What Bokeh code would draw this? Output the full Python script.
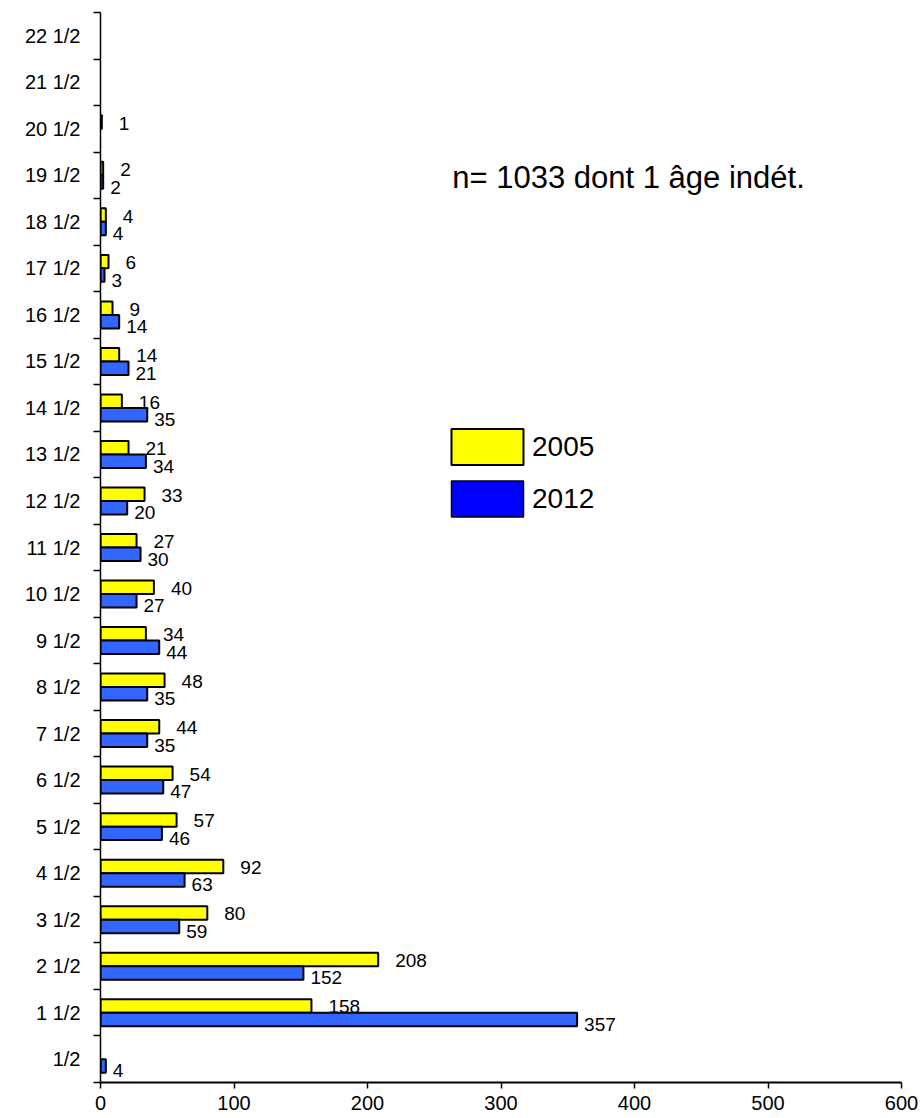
from bokeh.plotting import figure
from bokeh.models import (ColumnDataSource, FixedTicker, Legend, LegendItem, Label, Range1d)
from bokeh.embed import file_html
from bokeh.resources import INLINE
from bokeh.core.properties import value

ages = ["1/2", "1 1/2", "2 1/2", "3 1/2", "4 1/2", "5 1/2", "6 1/2", "7 1/2",
        "8 1/2", "9 1/2", "10 1/2", "11 1/2", "12 1/2", "13 1/2", "14 1/2",
        "15 1/2", "16 1/2", "17 1/2", "18 1/2", "19 1/2", "20 1/2", "21 1/2", "22 1/2"]
counts_2005 = [0, 158, 208, 80, 92, 57, 54, 44, 48, 34, 40, 27, 33, 21, 16, 14, 9, 6, 4, 2, 1, 0, 0]
counts_2012 = [4, 357, 152, 59, 63, 46, 47, 35, 35, 44, 27, 30, 20, 34, 35, 21, 14, 3, 4, 2, 0, 0, 0]
series_names = ["2005", "2012"]
x_ticks = [0, 100, 200, 300, 400, 500, 600]
note = "n= 1033 dont 1 âge indét."

FONT = "Liberation Sans"
BAR_H = 0.29
YELLOW = "#FFFF00"
BLUE = "#3366FF"
LEGEND_BLUE = "#0000FF"

centers = [i + 0.5 for i in range(len(ages))]


def make_source(vals, shift):
    ys, vs, ts = [], [], []
    for c, v in zip(centers, vals):
        if v > 0:
            ys.append(c + shift)
            vs.append(v)
            ts.append(str(v))
    return ColumnDataSource(dict(y=ys, v=vs, t=ts))


src05 = make_source(counts_2005, BAR_H / 2)
src12 = make_source(counts_2012, -BAR_H / 2)

p = figure(width=921, height=1118,
           x_range=Range1d(0, 600), y_range=Range1d(0, len(ages)),
           output_backend="svg", toolbar_location=None,
           min_border_left=100, min_border_right=20, min_border_top=12, min_border_bottom=36)
p.outline_line_color = None
p.xgrid.visible = False
p.ygrid.visible = False
p.background_fill_color = "white"

r05 = p.hbar(y="y", right="v", left=0, height=BAR_H, source=src05,
             fill_color=YELLOW, line_color="black", line_width=2)
r12 = p.hbar(y="y", right="v", left=0, height=BAR_H, source=src12,
             fill_color=BLUE, line_color="black", line_width=2)

p.text(x="v", y="y", text="t", source=src05, x_offset=17, y_offset=1,
       text_baseline="middle", text_align="left",
       text_font=value(FONT), text_font_size="19px", text_color="black")
p.text(x="v", y="y", text="t", source=src12, x_offset=7, y_offset=5,
       text_baseline="middle", text_align="left",
       text_font=value(FONT), text_font_size="19px", text_color="black")

# Y axis: labels at category centres, small ticks at category boundaries
ya = p.yaxis[0]
ya.ticker = FixedTicker(ticks=centers, minor_ticks=list(range(len(ages) + 1)))
ya.major_label_overrides = {c: a for c, a in zip(centers, ages)}
ya.major_tick_out = 0
ya.major_tick_in = 0
ya.minor_tick_out = 7
ya.minor_tick_in = 0
ya.minor_tick_line_color = "black"
ya.minor_tick_line_width = 1.5
ya.axis_line_color = "black"
ya.axis_line_width = 1.5
ya.major_label_standoff = 13
ya.major_label_text_font = FONT
ya.major_label_text_font_size = "20px"
ya.major_label_text_color = "black"

xa = p.xaxis[0]
xa.ticker = FixedTicker(ticks=x_ticks)
xa.major_tick_out = 6
xa.major_tick_in = 0
xa.major_tick_line_color = "black"
xa.major_tick_line_width = 1.5
xa.minor_tick_line_color = None
xa.axis_line_color = "black"
xa.axis_line_width = 2
xa.major_label_standoff = 7
xa.major_label_text_font = FONT
xa.major_label_text_font_size = "20px"
xa.major_label_text_color = "black"

# Legend (legend swatch for 2012 is pure blue in the reference); its one bar lies off-range
r_leg12 = p.hbar(y=[-10], right=[1], left=0, height=BAR_H,
                 fill_color=LEGEND_BLUE, line_color="black", line_width=1.5)
legend = Legend(items=[LegendItem(label=series_names[0], renderers=[r05]),
                       LegendItem(label=series_names[1], renderers=[r_leg12])],
                location=(342, 561), glyph_width=90, glyph_height=45,
                label_text_font=FONT, label_text_font_size="28px",
                label_text_color="black",
                label_standoff=0, spacing=7, padding=0, margin=0,
                border_line_alpha=0, background_fill_alpha=0)
p.add_layout(legend)

p.add_layout(Label(x=263.5, y=19.45, text=note, text_baseline="middle",
                   text_font=FONT, text_font_size="31px", text_color="black"))

open("out.html", "w").write(file_html(p, INLINE))
